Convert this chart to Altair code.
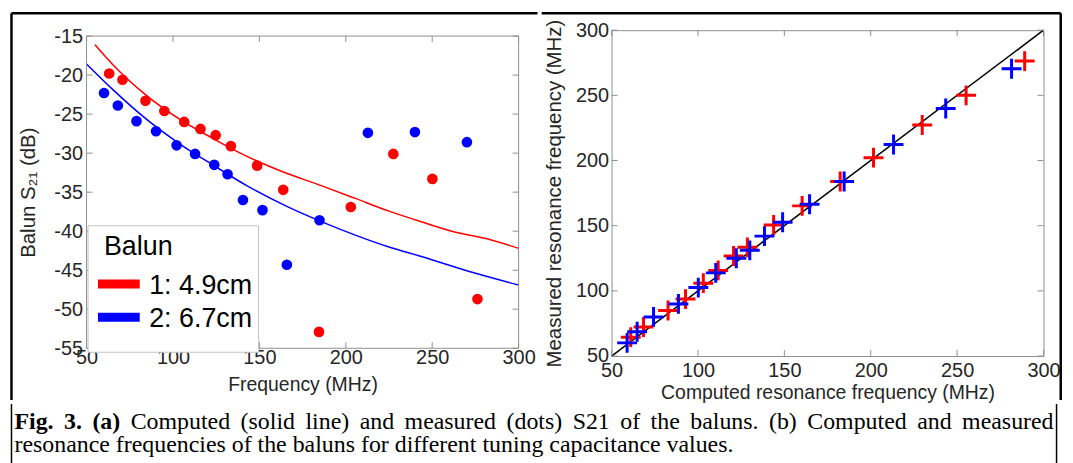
import altair as alt
import pandas as pd

# ---------------- data ----------------
baluns = ["1: 4.9cm", "2: 6.7cm"]
colors = ["#ff0000", "#0000ff"]

# (a) measured S21 dots
red_dot_f = [63.1, 70.8, 84.1, 95.0, 106.5, 115.9, 124.7, 133.5, 148.7, 163.8, 184.5, 202.9, 227.5, 250.1, 276.2]
red_dot_s = [-19.8, -20.6, -23.3, -24.6, -26.0, -26.9, -27.7, -29.1, -31.6, -34.7, -52.9, -36.9, -30.1, -33.3, -48.7]
blue_dot_f = [60.1, 68.1, 78.9, 90.2, 102.1, 112.8, 123.9, 131.6, 140.5, 151.8, 165.9, 184.8, 212.8, 240.0, 270.1]
blue_dot_s = [-22.3, -23.9, -25.9, -27.2, -29.0, -30.1, -31.5, -32.7, -36.0, -37.3, -44.3, -38.6, -27.4, -27.3, -28.6]

# (a) computed S21 curves
red_line_f = [54.9, 65.4, 84.6, 103.8, 123.0, 142.2, 161.3, 186.2, 205.5, 224.6, 243.8, 263.0, 282.2, 300.0]
red_line_s = [-16.1, -18.7, -22.6, -25.65, -28.1, -30.35, -32.2, -34.2, -35.8, -37.4, -38.8, -40.1, -41.0, -42.2]
blue_line_f = [50.1, 65.4, 84.6, 103.8, 123.0, 142.2, 167.1, 186.2, 205.5, 224.6, 243.8, 273.6, 300.0]
blue_line_s = [-18.6, -21.9, -25.65, -28.8, -31.5, -34.1, -36.95, -38.8, -40.5, -42.0, -43.25, -45.3, -46.9]

# (b) computed vs measured resonance frequency
red_c = [61.1, 68.5, 82.7, 92.8, 103.1, 111.7, 120.6, 128.6, 143.8, 160.3, 182.3, 201.6, 229.8, 255.2, 289.1]
red_m = [64.5, 72.3, 84.9, 93.7, 105.9, 115.7, 126.8, 133.4, 150.5, 165.2, 183.9, 202.2, 227.3, 250.0, 276.3]
blue_c = [59.0, 64.8, 74.3, 88.7, 100.2, 110.3, 122.2, 130.0, 138.5, 149.0, 164.6, 184.6, 213.2, 243.4, 281.5]
blue_m = [60.1, 68.6, 80.0, 90.0, 102.5, 113.8, 125.0, 131.1, 142.0, 152.6, 166.5, 183.9, 212.3, 239.9, 270.4]
diag = [50, 300]

left_xticks = [50, 100, 150, 200, 250, 300]
left_yticks = [-55, -50, -45, -40, -35, -30, -25, -20, -15]
right_ticks = [50, 100, 150, 200, 250, 300]

caption_line1 = [("Fig.", True), ("3.", True), ("(a)", True), ("Computed", False), ("(solid", False),
                 ("line)", False), ("and", False), ("measured", False), ("(dots)", False), ("S21", False),
                 ("of", False), ("the", False), ("baluns.", False), ("(b)", False), ("Computed", False),
                 ("and", False), ("measured", False)]
caption_line2 = "resonance frequencies of the baluns for different tuning capacitance values."

# ---------------- styling ----------------
FONT = "Liberation Sans"
SERIF = "Liberation Serif"
GRAY = "#8f8f8f"
INK = "#262626"
TL = 6  # inward tick length

W1, H1 = 434.5, 319.9      # left view (plot box runs from y=T1 to y=H1)
T1 = 5.9
W2, H2 = 434.4, 327.7

color_scale = alt.Scale(domain=baluns, range=colors)
xs1 = alt.Scale(domain=[50, 300], nice=False, zero=False)
ys1 = alt.Scale(domain=[-55, -15], nice=False, zero=False, range=[H1, T1])
xs2 = alt.Scale(domain=[50, 300], nice=False, zero=False)
ys2 = alt.Scale(domain=[50, 300], nice=False, zero=False)

dummy = pd.DataFrame({"d": [0]})


def axis(values, title, lsize, lpad, tsize, tpad):
    return alt.Axis(values=values, title=title, grid=False, domain=False, ticks=False, tickSize=0,
                    labelFont=FONT, labelFontSize=lsize, labelColor=INK, labelPadding=lpad,
                    labelFlush=False, labelOverlap=False, labelExpr="'' + datum.value",
                    titleFont=FONT, titleFontSize=tsize, titleFontWeight="normal", titleColor=INK,
                    titlePadding=tpad)


def inward_ticks(xvals, yvals, X, Y, W, top, bottom):
    layers = []
    dx = pd.DataFrame({"t": xvals})
    dy = pd.DataFrame({"t": yvals})
    r = dict(color=GRAY, strokeWidth=1)
    layers.append(alt.Chart(dx).mark_rule(**r).encode(
        x=alt.X("t:Q", **X), y=alt.value(bottom), y2=alt.value(bottom - TL)))
    layers.append(alt.Chart(dx).mark_rule(**r).encode(
        x=alt.X("t:Q", **X), y=alt.value(top), y2=alt.value(top + TL)))
    layers.append(alt.Chart(dy).mark_rule(**r).encode(
        y=alt.Y("t:Q", **Y), x=alt.value(0), x2=alt.value(TL)))
    layers.append(alt.Chart(dy).mark_rule(**r).encode(
        y=alt.Y("t:Q", **Y), x=alt.value(W), x2=alt.value(W - TL)))
    return layers


def hrule(x1, x2, y, w):
    return alt.Chart(dummy).mark_rule(color="black", strokeWidth=w).encode(
        x=alt.value(x1), x2=alt.value(x2), y=alt.value(y))


def vrule(x, y1, y2, w):
    return alt.Chart(dummy).mark_rule(color="black", strokeWidth=w).encode(
        x=alt.value(x), y=alt.value(y1), y2=alt.value(y2))


# ---------------- panel (a) ----------------
lines_df = pd.DataFrame({
    "f": red_line_f + blue_line_f,
    "s": red_line_s + blue_line_s,
    "balun": [baluns[0]] * len(red_line_f) + [baluns[1]] * len(blue_line_f),
})
dots_df = pd.DataFrame({
    "f": red_dot_f + blue_dot_f,
    "s": red_dot_s + blue_dot_s,
    "balun": [baluns[0]] * len(red_dot_f) + [baluns[1]] * len(blue_dot_f),
})

X1 = dict(scale=xs1, axis=axis(left_xticks, "Frequency (MHz)", 20, -1, 19.5, 8))
Y1 = dict(scale=ys1, axis=axis(left_yticks, "Balun S\u2082\u2081 (dB)", 20, 4, 20.5, 15))

box1 = alt.Chart(dummy).mark_rect(fillOpacity=0, stroke=GRAY, strokeWidth=1).encode(
    x=alt.value(0), x2=alt.value(W1), y=alt.value(T1), y2=alt.value(H1))
curves = alt.Chart(lines_df).mark_line(strokeWidth=1.5, interpolate="monotone").encode(
    x=alt.X("f:Q", **X1),
    y=alt.Y("s:Q", **Y1),
    color=alt.Color("balun:N", scale=color_scale, legend=None),
    detail="balun:N",
)
dots = alt.Chart(dots_df).mark_circle(size=115, opacity=1).encode(
    x=alt.X("f:Q", **X1),
    y=alt.Y("s:Q", **Y1),
    color=alt.Color("balun:N", scale=color_scale, legend=None),
)

legend_box = alt.Chart(dummy).mark_rect(fill="white", stroke="#c4c4c4", strokeWidth=1).encode(
    x=alt.value(1.5), x2=alt.value(173), y=alt.value(196.7), y2=alt.value(323.9))
leg_text = dict(align="left", baseline="alphabetic", font=FONT, fontSize=27, color="black")
legend_title = alt.Chart(dummy).mark_text(**leg_text).encode(
    x=alt.value(17.5), y=alt.value(225.9), text=alt.value("Balun"))
leg_r1 = alt.Chart(dummy).mark_rule(color=colors[0], strokeWidth=9).encode(
    x=alt.value(11.5), x2=alt.value(53.5), y=alt.value(255.2))
leg_r2 = alt.Chart(dummy).mark_rule(color=colors[1], strokeWidth=9).encode(
    x=alt.value(11.5), x2=alt.value(53.5), y=alt.value(288.6))
leg_t1 = alt.Chart(dummy).mark_text(**leg_text).encode(
    x=alt.value(63), y=alt.value(265.5), text=alt.value(baluns[0]))
leg_t2 = alt.Chart(dummy).mark_text(**leg_text).encode(
    x=alt.value(63), y=alt.value(298.2), text=alt.value(baluns[1]))

left_layers = [curves, dots, box1] + inward_ticks(left_xticks, left_yticks, X1, Y1, W1, T1, H1) + [
    legend_box, legend_title, leg_r1, leg_r2, leg_t1, leg_t2,
    hrule(-75.5, 453.5, -17.1, 2.5), vrule(-75.5, -17.1, 371.9, 2.5)]
left = alt.layer(*left_layers).properties(width=W1, height=H1,
                                          view=alt.ViewBackground(strokeOpacity=0))

# ---------------- panel (b) ----------------
diag_df = pd.DataFrame({"c": diag, "m": diag})
cross_df = pd.DataFrame({
    "c": red_c + blue_c,
    "m": red_m + blue_m,
    "balun": [baluns[0]] * len(red_c) + [baluns[1]] * len(blue_c),
})
X2 = dict(scale=xs2, axis=axis(right_ticks, "Computed resonance frequency (MHz)", 20, 5, 19.5, 3))
Y2 = dict(scale=ys2, axis=axis(right_ticks, "Measured resonance frequency (MHz)", 20, 3, 20.5, 11))

diag_line = alt.Chart(diag_df).mark_line(color="black", strokeWidth=1.5).encode(
    x=alt.X("c:Q", **X2),
    y=alt.Y("m:Q", **Y2),
)
CROSS = "M-1,0L1,0M0,-1L0,1"
crosses = alt.Chart(cross_df).mark_point(shape=CROSS, size=400, filled=False, strokeWidth=3, opacity=1).encode(
    x=alt.X("c:Q", **X2),
    y=alt.Y("m:Q", **Y2),
    color=alt.Color("balun:N", scale=color_scale, legend=None),
)
right_layers = [diag_line, crosses] + inward_ticks(right_ticks, right_ticks, X2, Y2, W2, 0, H2) + [
    hrule(-70.3, 451.7, -17.1, 2.5), vrule(451.7, -17.1, 371.9, 2.5)]
right = alt.layer(*right_layers).properties(width=W2, height=H2)

# ---------------- caption ----------------
FS = 24
TR = {' ': 250, '(': 333, ')': 333, '.': 250, '1': 500, '2': 500, '3': 500, 'a': 444, 'b': 500, 'c': 444,
      'd': 500, 'e': 444, 'f': 333, 'g': 500, 'h': 500, 'i': 278, 'l': 278, 'm': 778, 'n': 500, 'o': 500,
      'p': 500, 'q': 500, 'r': 333, 's': 389, 't': 278, 'u': 500, 'v': 500, 'y': 500, 'C': 667, 'S': 556}
TB = {'F': 611, 'i': 278, 'g': 500, '.': 250, '3': 500, '(': 333, 'a': 500, ')': 333, ' ': 250}


def tw(word, bold):
    tab = TB if bold else TR
    return sum(tab[ch] for ch in word) / 1000 * FS


# caption origin is aligned with the left panel's plot origin
CL, CR = -75.5, 975.5          # frame sides
CW, CH = 975, 63
XA, XB = -72.5, 972.5          # justified text extent of line 1
natural = sum(tw(w, b) for w, b in caption_line1)
gap = (XB - XA - natural) / (len(caption_line1) - 1)
xpos, cur = [], XA
for w, b in caption_line1:
    xpos.append(cur)
    cur += tw(w, b) + gap
cap_df = pd.DataFrame({"x": xpos, "w": [w for w, _ in caption_line1], "bold": [b for _, b in caption_line1]})
cap_x = alt.Scale(domain=[0, CW], nice=False, zero=False)
cap_text = dict(align="left", baseline="alphabetic", font=SERIF, fontSize=FS, color="black")

cap_bold = alt.Chart(cap_df[cap_df["bold"]]).mark_text(fontWeight="bold", **cap_text).encode(
    x=alt.X("x:Q", scale=cap_x, axis=None), y=alt.value(25), text="w:N")
cap_reg = alt.Chart(cap_df[~cap_df["bold"]]).mark_text(**cap_text).encode(
    x=alt.X("x:Q", scale=cap_x, axis=None), y=alt.value(25), text="w:N")
cap_l2 = alt.Chart(pd.DataFrame({"x": [XA], "w": [caption_line2]})).mark_text(**cap_text).encode(
    x=alt.X("x:Q", scale=cap_x, axis=None), y=alt.value(48), text="w:N")

caption = alt.layer(
    cap_bold, cap_reg, cap_l2, vrule(CL, 0, CH, 1.5), vrule(CR, 0, CH, 1.5)
).properties(width=CW, height=CH, view=alt.ViewBackground(strokeOpacity=0))

chart = alt.vconcat(
    alt.hconcat(left, right, spacing=0),
    caption,
    spacing=0,
).properties(
    padding={"left": 2, "top": 2, "right": 2, "bottom": 0},
    background="white",
).configure_view(stroke=GRAY, strokeWidth=1)

chart.save("out.html", embed_options={"renderer": "svg", "actions": False})
